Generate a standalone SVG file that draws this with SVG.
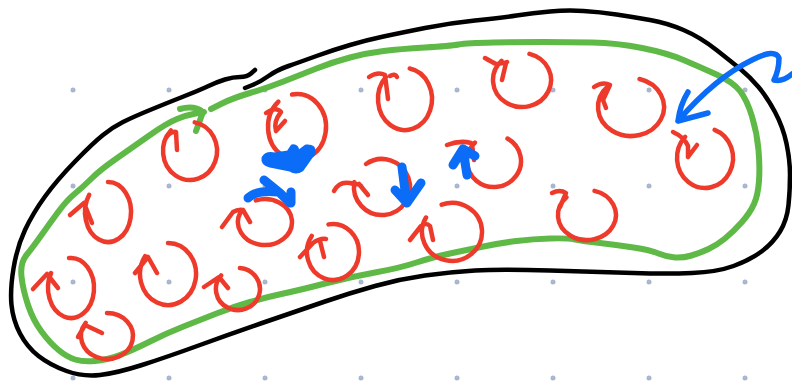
<svg xmlns="http://www.w3.org/2000/svg" width="792" height="382" viewBox="0 0 792 382">
  <style>
    .dot { fill: #a9b6cf; }
    .ink { fill: none; stroke-linecap: round; stroke-linejoin: round; }
    .wall { stroke: #000000; stroke-width: 4.5; }
    .membrane { stroke: #5fb946; stroke-width: 6; }
    .swirl { stroke: #ee3a2a; stroke-width: 4.5; }
    .flow { stroke: #0a6cf7; stroke-width: 5.5; }
    .flow-thick { stroke: #0a6cf7; stroke-width: 9; }
  </style>

  <!-- dotted canvas grid, 96px pitch -->
  <g id="grid">
    <g id="grid-row-1">
      <circle class="dot" cx="73" cy="90" r="2.5"/><circle class="dot" cx="169" cy="90" r="2.5"/><circle class="dot" cx="265" cy="90" r="2.5"/><circle class="dot" cx="361" cy="90" r="2.5"/><circle class="dot" cx="457" cy="90" r="2.5"/><circle class="dot" cx="553" cy="90" r="2.5"/><circle class="dot" cx="649" cy="90" r="2.5"/><circle class="dot" cx="745" cy="90" r="2.5"/>
    </g>
    <g id="grid-row-2">
      <circle class="dot" cx="73" cy="186" r="2.5"/><circle class="dot" cx="169" cy="186" r="2.5"/><circle class="dot" cx="265" cy="186" r="2.5"/><circle class="dot" cx="361" cy="186" r="2.5"/><circle class="dot" cx="457" cy="186" r="2.5"/><circle class="dot" cx="553" cy="186" r="2.5"/><circle class="dot" cx="649" cy="186" r="2.5"/><circle class="dot" cx="745" cy="186" r="2.5"/>
    </g>
    <g id="grid-row-3">
      <circle class="dot" cx="73" cy="282" r="2.5"/><circle class="dot" cx="169" cy="282" r="2.5"/><circle class="dot" cx="265" cy="282" r="2.5"/><circle class="dot" cx="361" cy="282" r="2.5"/><circle class="dot" cx="457" cy="282" r="2.5"/><circle class="dot" cx="553" cy="282" r="2.5"/><circle class="dot" cx="649" cy="282" r="2.5"/><circle class="dot" cx="745" cy="282" r="2.5"/>
    </g>
    <g id="grid-row-4">
      <circle class="dot" cx="73" cy="378" r="2.5"/><circle class="dot" cx="169" cy="378" r="2.5"/><circle class="dot" cx="265" cy="378" r="2.5"/><circle class="dot" cx="361" cy="378" r="2.5"/><circle class="dot" cx="457" cy="378" r="2.5"/><circle class="dot" cx="553" cy="378" r="2.5"/><circle class="dot" cx="649" cy="378" r="2.5"/><circle class="dot" cx="745" cy="378" r="2.5"/>
    </g>
  </g>

  <!-- outer black wall -->
  <g id="outer-wall">
    <path class="ink wall" d="M245,88 L252.5,85 Q260,82 268.5,76 Q277,70 288.5,66 Q300,62 316.5,56 Q333,50 350,45 Q367,40 383.5,36.5 Q400,33 425,28 Q450,23 475,20.5 Q500,18 516.5,15.5 Q533,13 550,11.5 Q567,10 583.5,11 Q600,12 616.5,14.5 Q633,17 650,20 Q667,23 683.5,30 Q700,37 716.5,50 Q733,63 741.5,70 Q750,77 758.5,87 Q767,97 775,112 Q783,127 786.5,143.5 Q790,160 790,175 Q790,190 788.5,205 Q787,220 780,231.5 Q773,243 761.5,251.5 Q750,260 733.5,266 Q717,272 692,273 Q667,274 633.5,273 Q600,272 550,270.5 Q500,269 475,270.5 Q450,272 425,275.5 Q400,279 375,286 Q350,293 325,301.5 Q300,310 266.5,321.5 Q233,333 200,345 Q167,357 142,365 Q117,373 100,375 Q83,377 66.5,371 Q50,365 38.5,356 Q27,347 20,333.5 Q13,320 11.5,305 Q10,290 13.5,268.5 Q17,247 25,230 Q33,213 45,196.5 Q57,180 75,161.5 Q93,143 103,135 Q113,127 123,122 Q133,117 150,110 Q167,103 183.5,96.5 Q200,90 208.5,86 Q217,82 225,79.5 Q233,77 240,77 Q247,77 251,73.5 L255,70"/>
  </g>

  <!-- inner green membrane with its arrowhead -->
  <g id="inner-membrane">
    <path class="ink membrane" d="M211,109 L222,103.5 Q233,98 250,93 Q267,88 283.5,81.5 Q300,75 316.5,68.5 Q333,62 350,57.5 Q367,53 383.5,51 Q400,49 425,47.5 Q450,46 458.5,44.5 Q467,43 493.5,42.5 Q520,42 543.5,42 Q567,42 592,42.5 Q617,43 642,48 Q667,53 683.5,60 Q700,67 716.5,74.5 Q733,82 740,91 Q747,100 752,116.5 Q757,133 758.5,150 Q760,167 759,181 Q758,195 754,204 Q750,213 741.5,222.5 Q733,232 725,238.5 Q717,245 708.5,249 Q700,253 691.5,255.5 Q683,258 675,257.5 Q667,257 658.5,253.5 Q650,250 633.5,247.5 Q617,245 600,243 Q583,241 575,239.5 Q567,238 550,238.5 Q533,239 516.5,241 Q500,243 483.5,246.5 Q467,250 450,253.5 Q433,257 416.5,262.5 Q400,268 375,272.5 Q350,277 325,283.5 Q300,290 283.5,293.5 Q267,297 250,302 Q233,307 216.5,313.5 Q200,320 183.5,326.5 Q167,333 150,341.5 Q133,350 120,355 Q107,360 95,361 Q83,362 75,359.5 Q67,357 58.5,350 Q50,343 41.5,331.5 Q33,320 28,305 Q23,290 21.5,276.5 Q20,263 26.5,255 Q33,247 41.5,235 Q50,223 58.5,211.5 Q67,200 75,193.5 Q83,187 91.5,178.5 Q100,170 116.5,158.5 Q133,147 150,135 Q167,123 177,119 Q187,115 195.5,113.5 L204,112"/>
    <path class="ink membrane" d="M180,109 Q194,105 203,112 L196,131"/>
  </g>

  <!-- red swirls: near-closed loop plus small tail tick -->
  <g id="swirls">
    <g id="swirl-a"><path class="ink swirl" d="M194.7,122.4 A27,29 0 1 1 170.9,130.5 M166,138 Q170,131 176,132 L177,150"/></g>
    <g id="swirl-b"><path class="ink swirl" d="M292,94.5 A29,33 0 1 1 278.4,101.7 M266,113 Q276,106 281,112 Q273,122 276,131 M276,131 L285,121"/></g>
    <g id="swirl-c"><path class="ink swirl" d="M409.7,68.5 A27,31 0 1 1 385.9,77.1 M369,77 Q378,71 385,75 L388,99 M390,76 Q395,73 397,77"/></g>
    <g id="swirl-d"><path class="ink swirl" d="M529.5,53.9 A29,27 0 1 1 501.5,60.9 M485,58 Q492,62 496,64 Q502,64 507,62 M506,63 L502,80"/></g>
    <g id="swirl-e"><path class="ink swirl" d="M639.5,79 A33,29 0 1 1 607.7,86.5 M594,87 Q603,81 610,85 L603,100 L606,108"/></g>
    <g id="swirl-f"><path class="ink swirl" d="M714.6,129.8 A28,30 0 1 1 685.2,136.8 M673,132 Q684,137 688,146 L688,157 M697,145 L688,157"/></g>
    <g id="swirl-g"><path class="ink swirl" d="M507.5,138.5 A27,26 0 1 1 474.9,142.6 M447,145 Q460,140 471,143 M472,144 L474,160"/></g>
    <g id="swirl-h"><path class="ink swirl" d="M366,164 A28,28 0 1 1 354.4,182.1 M334,191 Q339,181 350,183 Q356,185 359,184 M359,184 L368,195"/></g>
    <g id="swirl-i"><path class="ink swirl" d="M255.8,200.4 A27,23 0 1 1 240.5,212.3 M222,227 L233,212 Q238,209 243,210 L250,222"/></g>
    <g id="swirl-j"><path class="ink swirl" d="M328.5,224.4 A26,28 0 1 1 311.7,235.9 M300,257 L313,243 Q320,238 326,239 M320,241 L324,257"/></g>
    <g id="swirl-k"><path class="ink swirl" d="M441.7,204.7 A30,29 0 1 1 426,217.5 M410,240 L421,226 Q426,222 430,226 L433,240"/></g>
    <g id="swirl-l"><path class="ink swirl" d="M594.5,190.9 A29,25 0 1 1 566.5,197.3 M552,193 Q560,189 566,193 L560,207"/></g>
    <g id="swirl-m"><path class="ink swirl" d="M108,182 A23,30 0 1 1 89.2,194.8 M70,215 L84,203 L92,223"/></g>
    <g id="swirl-n"><path class="ink swirl" d="M69,258.1 A23,30 0 1 1 51.1,273 M33,289 L47,274 L58,288"/></g>
    <g id="swirl-o"><path class="ink swirl" d="M168,243 A28,31 0 1 1 145.1,256.2 M135,273 L148,257 L157,273"/></g>
    <g id="swirl-p"><path class="ink swirl" d="M107,313 A26,23 0 1 1 85.7,322.8 M78,337 L85,325 L102,333"/></g>
    <g id="swirl-q"><path class="ink swirl" d="M239.9,268.1 A22,21 0 1 1 221.1,275.5 M204,287 L219,277 L228,288"/></g>
  </g>

  <!-- blue flow arrows -->
  <g id="connectors">
    <path id="inflow" class="ink flow" d="M678,121 Q715,78 752,60 Q775,48 779,58 Q779,70 774,80 Q783,82 792,74 M688,92 Q680,105 678,121 L708,113"/>
    <path id="flow-blob" fill="#0a6cf7" stroke="#0a6cf7" stroke-width="3" stroke-linejoin="round" d="M263,158 Q266,152 275,154 L288,152 L292,146 Q298,145 298,152 L306,146 Q315,145 314,153 Q308,162 302,170 Q296,174 290,170 L270,166 Q262,164 263,158 Z"/>
    <path id="flow-right" class="ink flow-thick" d="M248,198 Q256,190 278,192 M264,180 L280,193 L290,203 M291,192 L291,203"/>
    <path id="flow-down" class="ink flow-thick" d="M402,167 Q404,185 407,203 M395,190 L407,203 L421,183"/>
    <path id="flow-up" class="ink flow-thick" d="M467,175 L463,150 M453,165 L463,149 L475,156"/>
  </g>
</svg>
